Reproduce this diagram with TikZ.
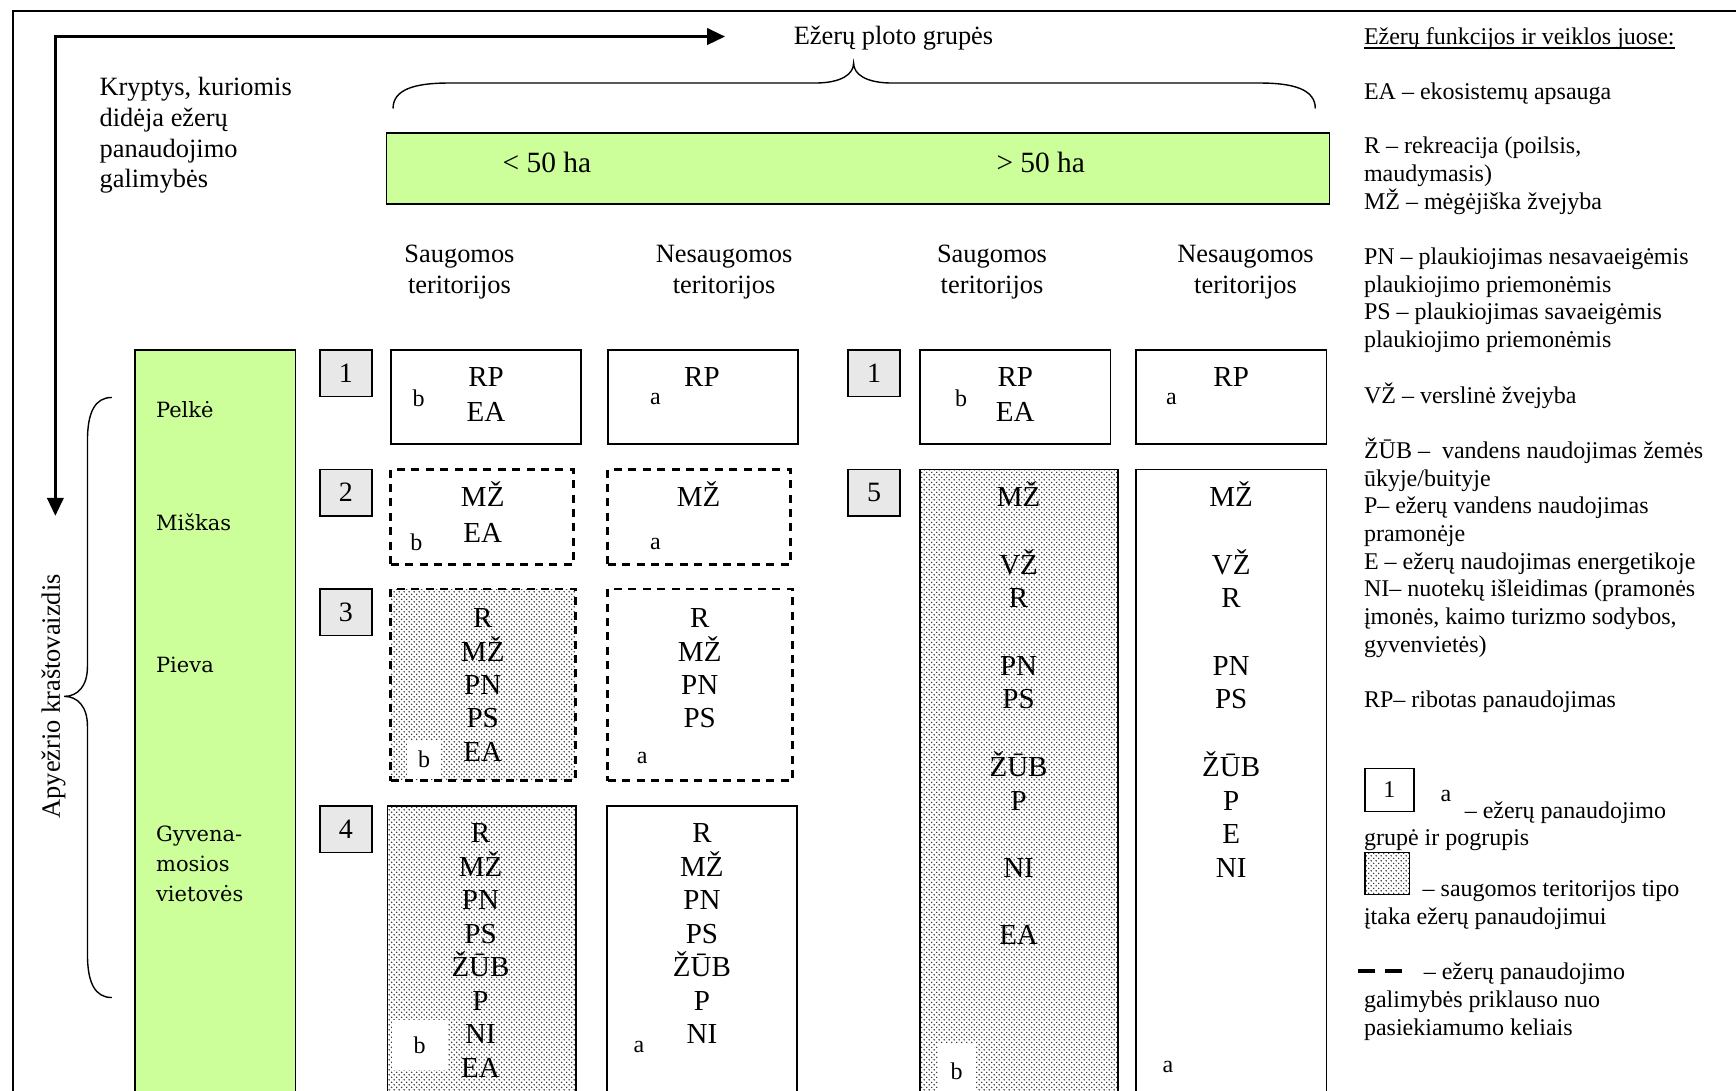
\documentclass[tikz,border=0pt]{standalone}
\usepackage{fontspec}
\setmainfont{Liberation Serif}
\newfontfamily\landfont{DejaVu Serif}
\usetikzlibrary{arrows.meta,patterns,fit}
\definecolor{lakegreen}{HTML}{CCFF99}
\definecolor{numgray}{HTML}{E8E8E8}
% fine staggered dots for protected-area influence
\pgfdeclarepatternformonly{finedots}{\pgfpointorigin}{\pgfqpoint{2.7pt}{2.7pt}}{\pgfqpoint{2.7pt}{2.7pt}}{%
  \pgfpathcircle{\pgfqpoint{0.675pt}{0.675pt}}{0.42pt}%
  \pgfpathcircle{\pgfqpoint{2.025pt}{2.025pt}}{0.42pt}%
  \pgfusepath{fill}}
\begin{document}
\begin{tikzpicture}[x=0.55357pt,y=-0.55357pt,
  every node/.style={inner sep=0pt, outer sep=0pt},
  framepath/.style={line width=0.9pt},
  axisarrow/.style={line width=1.8pt, {Triangle[length=9pt,width=8pt]}-{Triangle[length=9pt,width=8pt]}},
  bracepath/.style={line width=0.7pt},
  greenbar/.style={draw, line width=0.8pt, fill=lakegreen},
  numbox/.style={draw, line width=0.8pt, fill=numgray, font=\fontsize{14}{16}\selectfont},
  solidbox/.style={draw, line width=0.8pt},
  dashbox/.style={draw, line width=1.4pt, dash pattern=on 4pt off 3.2pt},
  dotfill/.style={pattern=finedots, pattern color=black!85},
  usecode/.style={font=\fontsize{14.5}{16}\selectfont, text height=9.6pt, text depth=0pt},
  grpletter/.style={font=\fontsize{12}{14}\selectfont},
  patch/.style={fill=white, font=\fontsize{12}{14}\selectfont},
  headtext/.style={font=\fontsize{13.2}{15.5}\selectfont, anchor=base},
  legendtext/.style={font=\fontsize{12}{14}\selectfont, anchor=base west},
  landtext/.style={font=\landfont\fontsize{10.5}{15}\selectfont, anchor=base west},
  dashsample/.style={line width=1.9pt, dash pattern=on 8.3pt off 5pt},
]
\useasboundingbox (0,0) rectangle (1568,985);

% outer frame
\coordinate (fBL) at (12,1000);
\coordinate (fTL) at (12,10);
\coordinate (fTR) at (1580,10);
\draw[framepath] (fBL) -- (fTL) -- (fTR);

% directions of growing use
\coordinate (axH) at (655,33);
\coordinate (axC) at (50,33);
\coordinate (axV) at (50,466);
\draw[axisarrow] (axH) -- (axC) -- (axV);

\node[headtext] (areaT) at (807,40) {Ežerų ploto grupės};
\node[headtext, anchor=base west] (dirA) at (90,86) {Kryptys, kuriomis};
\node[headtext, anchor=base west] (dirB) at (90,114) {didėja ežerų};
\node[headtext, anchor=base west] (dirC) at (90,142) {panaudojimo};
\node[headtext, anchor=base west] (dirD) at (90,169) {galimybės};

% upper brace over the area groups
\coordinate (brL) at (355,98);
\coordinate (brT) at (771,57);
\coordinate (brR) at (1188,98);
\draw[bracepath] (brL) .. controls (355,81) and (374,75) .. (405,75) -- (736,75)
  .. controls (760,75) and (771,67) .. (brT)
  .. controls (771,67) and (782,75) .. (806,75) -- (1138,75)
  .. controls (1169,75) and (1188,81) .. (brR);

% area bar
\node[greenbar, fit={(349,120) (1201,184)}] (areabar) {};
\node[font=\fontsize{14.7}{16}\selectfont, anchor=base] (small) at (494,156) {< 50 ha};
\node[font=\fontsize{14.7}{16}\selectfont, anchor=base] (large) at (940,156) {> 50 ha};

% column headers
\foreach \cx/\w [count=\i] in {415/Saugomos, 654/Nesaugomos, 896/Saugomos, 1125/Nesaugomos}{
  \node[headtext] (hA\i) at (\cx,237) {\w};
  \node[headtext] (hB\i) at (\cx,265) {teritorijos};
}

% landscape column
\node[greenbar, fit={(122,316) (267,1000)}] (landcol) {};
\node[landtext] (lPel) at (141,377) {Pelkė};
\node[landtext] (lMis) at (141,479) {Miškas};
\node[landtext] (lPie) at (141,607) {Pieva};
\node[landtext] (lGy1) at (141,760) {Gyvena-};
\node[landtext] (lGy2) at (141,787) {mosios};
\node[landtext] (lGy3) at (141,814) {vietovės};

\node[headtext, rotate=90] (landT) at (54,629) {Apyežrio kraštovaizdis};
\coordinate (lbT) at (101,359);
\coordinate (lbM) at (58,629);
\coordinate (lbB) at (101,901);
\draw[bracepath] (lbT) .. controls (86,359) and (79,372) .. (79,398) -- (79,602)
  .. controls (79,620) and (70,629) .. (lbM)
  .. controls (70,629) and (79,638) .. (79,656) -- (79,862)
  .. controls (79,888) and (86,901) .. (lbB);

% group numbers
\node[numbox, fit={(289,316) (336,358)}] (n1a) {};
\node[font=\fontsize{14}{16}\selectfont] at (n1a) {1};
\node[numbox, fit={(289,424) (336,466)}] (n2) {};
\node[font=\fontsize{14}{16}\selectfont] at (n2) {2};
\node[numbox, fit={(289,532) (336,574)}] (n3) {};
\node[font=\fontsize{14}{16}\selectfont] at (n3) {3};
\node[numbox, fit={(289,728) (336,770)}] (n4) {};
\node[font=\fontsize{14}{16}\selectfont] at (n4) {4};
\node[numbox, fit={(766,316) (813,358)}] (n1b) {};
\node[font=\fontsize{14}{16}\selectfont] at (n1b) {1};
\node[numbox, fit={(766,424) (813,466)}] (n5) {};
\node[font=\fontsize{14}{16}\selectfont] at (n5) {5};

% group 1
\node[solidbox, fit={(353,316) (525,401)}] (g1s) {};
\node[solidbox, fit={(549,316) (721,401)}] (g1n) {};
\node[solidbox, fit={(831,316) (1003,401)}] (g1S) {};
\node[solidbox, fit={(1026,316) (1198,401)}] (g1N) {};
\node[usecode] (g1sA) at (439,340) {RP};
\node[usecode] (g1sB) at (439,372) {EA};
\node[grpletter] (g1sL) at (378,360) {b};
\node[usecode] (g1nA) at (634,340) {RP};
\node[grpletter] (g1nL) at (592,360) {a};
\node[usecode] (g1SA) at (917,340) {RP};
\node[usecode] (g1SB) at (917,372) {EA};
\node[grpletter] (g1SL) at (868,360) {b};
\node[usecode] (g1NA) at (1112,340) {RP};
\node[grpletter] (g1NL) at (1058,360) {a};

% group 2
\node[dashbox, fit={(353,424) (518,510)}] (g2s) {};
\node[dashbox, fit={(549,424) (714,510)}] (g2n) {};
\node[usecode] (g2sA) at (436,449) {MŽ};
\node[usecode] (g2sB) at (436,481) {EA};
\node[grpletter] (g2sL) at (376,490) {b};
\node[usecode] (g2nA) at (631,449) {MŽ};
\node[grpletter] (g2nL) at (592,491) {a};

% group 3
\node[dashbox, dotfill, fit={(353,532) (520,705)}] (g3s) {};
\node[dashbox, fit={(549,532) (716,705)}] (g3n) {};
\node[patch, minimum width=17pt, minimum height=19pt] (g3sL) at (383,686) {b};
\foreach \t [count=\i] in {R,MŽ,PN,PS,EA}
  \node[usecode] (g3sT\i) at (436,{558.5+(\i-1)*30.1}) {\t};
\foreach \t [count=\i] in {R,MŽ,PN,PS}
  \node[usecode] (g3nT\i) at (632,{558.5+(\i-1)*30.1}) {\t};
\node[grpletter] (g3nL) at (580,685) {a};

% group 4
\node[solidbox, dotfill, fit={(350,728) (520,1000)}] (g4s) {};
\node[solidbox, fit={(548,728) (720,1000)}] (g4n) {};
\node[patch, minimum width=28pt, minimum height=25pt] (g4sL) at (379,944) {b};
\foreach \t [count=\i] in {R,MŽ,PN,PS,ŽŪB,P,NI,EA}
  \node[usecode] (g4sT\i) at (434,{752.7+(\i-1)*30.2}) {\t};
\foreach \t [count=\i] in {R,MŽ,PN,PS,ŽŪB,P,NI}
  \node[usecode] (g4nT\i) at (634,{752.7+(\i-1)*30.2}) {\t};
\node[grpletter] (g4nL) at (577,946) {a};

% group 5
\node[solidbox, dotfill, fit={(831,424) (1010,1000)}] (g5s) {};
\node[solidbox, fit={(1026,424) (1198,1000)}] (g5n) {};
\node[patch, minimum width=19pt, minimum height=28pt] (g5sL) at (864,968) {b};
\foreach \k/\t [count=\i] in {0/MŽ,2/VŽ,3/R,5/PN,6/PS,8/ŽŪB,9/P,11/NI,13/EA}
  \node[usecode] (g5sT\i) at (920,{449+\k*30.45}) {\t};
\foreach \k/\t [count=\i] in {0/MŽ,2/VŽ,3/R,5/PN,6/PS,8/ŽŪB,9/P,10/E,11/NI}
  \node[usecode] (g5nT\i) at (1112,{449+\k*30.45}) {\t};
\node[grpletter] (g5nL) at (1055,964) {a};

% legend
\node[legendtext] (lgT) at (1232,40.5) {Ežerų funkcijos ir veiklos juose:};
\draw[line width=0.6pt] ([yshift=-1.6pt]lgT.base west) -- ([yshift=-1.6pt]lgT.base east);
\foreach \y/\t [count=\i] in {89.5/{EA – ekosistemų apsauga},
  139/{R – rekreacija (poilsis,}, 164/{maudymasis)}, 189/{MŽ – mėgėjiška žvejyba},
  239/{PN – plaukiojimas nesavaeigėmis}, 264/{plaukiojimo priemonėmis},
  289/{PS – plaukiojimas savaeigėmis}, 314/{plaukiojimo priemonėmis},
  364/{VŽ – verslinė žvejyba},
  414/{ŽŪB –\ \ vandens naudojimas žemės}, 439/{ūkyje/buityje},
  464/{P– ežerų vandens naudojimas}, 489/{pramonėje},
  514/{E – ežerų naudojimas energetikoje},
  539/{NI– nuotekų išleidimas (pramonės}, 564/{įmonės, kaimo turizmo sodybos,},
  589/{gyvenvietės)}, 639/{RP– ribotas panaudojimas}}
  \node[legendtext] (lg\i) at (1232,\y) {\t};

\node[solidbox, fit={(1233,694) (1277,733)}] (lgBox) {};
\node[font=\fontsize{12}{14}\selectfont] (lgBoxN) at (lgBox) {1};
\node[grpletter] (lgA) at (1306,719) {a};
\node[legendtext] (lgK1) at (1323,739) {– ežerų panaudojimo};
\node[legendtext] (lgK2) at (1232,764) {grupė ir pogrupis};
\node[solidbox, dotfill, fit={(1233,770) (1273,808)}] (lgDots) {};
\node[legendtext] (lgD1) at (1285,810) {– saugomos teritorijos tipo};
\node[legendtext] (lgD2) at (1232,835) {įtaka ežerų panaudojimui};
\coordinate (dsA) at (1227,877);
\coordinate (dsB) at (1267,877);
\draw[dashsample] (dsA) -- (dsB);
\node[legendtext] (lgR1) at (1286,885) {– ežerų panaudojimo};
\node[legendtext] (lgR2) at (1232,910) {galimybės priklauso nuo};
\node[legendtext] (lgR3) at (1232,935) {pasiekiamumo keliais};
\end{tikzpicture}
\end{document}
